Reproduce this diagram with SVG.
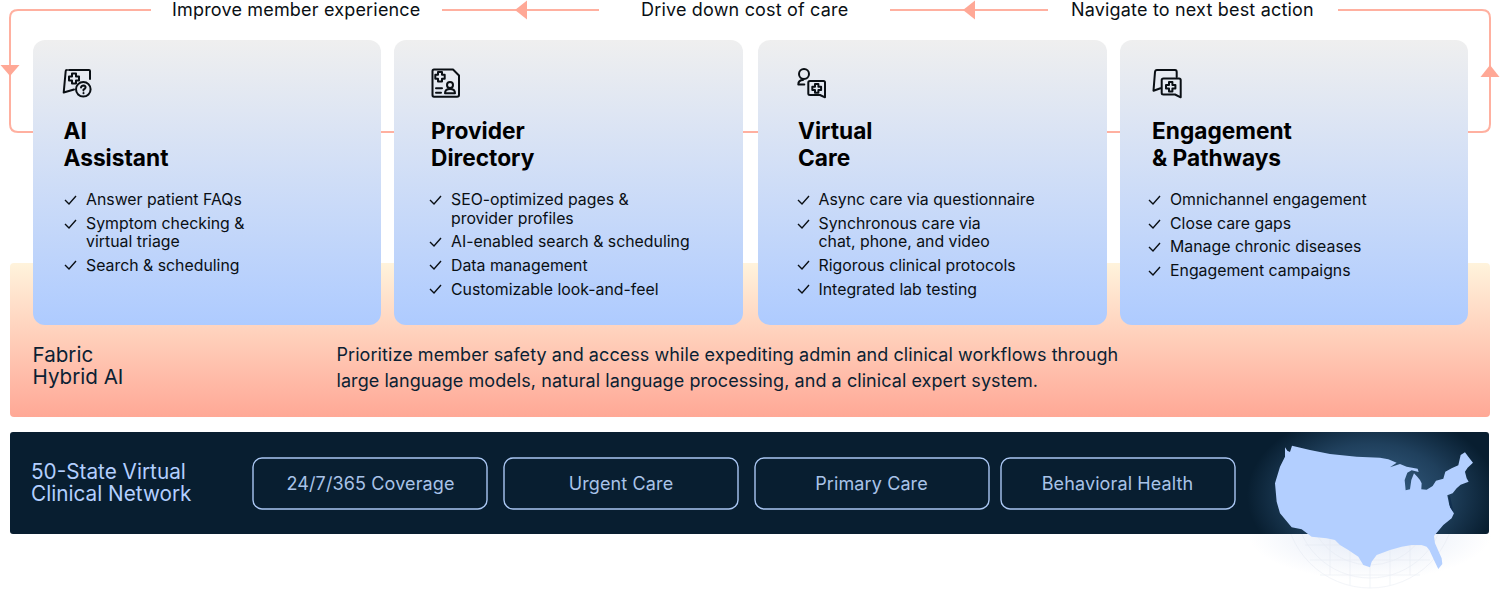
<svg xmlns="http://www.w3.org/2000/svg" width="1500" height="596" viewBox="0 0 1500 596">
<style>
text{font-family:Inter,"Liberation Sans",sans-serif}
.top{font-size:18px;fill:#0a0f14;letter-spacing:.18px}
.title{font-size:22.7px;font-weight:700;fill:#000}
.item{font-size:15.85px;fill:#0a0f14}
.chk{fill:none;stroke:#0a0f14;stroke-width:1.4}
.ico{fill:none;stroke:#0a0f14;stroke-width:2;stroke-linejoin:round;stroke-linecap:round}
.card{fill:url(#cardG)}
.line{fill:none;stroke:#ffb0a0;stroke-width:2}
.arrow{fill:#ffa896}
.pill{fill:none;stroke:#a9c6f2;stroke-width:1.4}
.pt{font-size:18px;fill:#a9c3e8;text-anchor:middle;letter-spacing:.12px}
.fab{font-size:20.6px;fill:#0b1f33}
.body{font-size:18px;fill:#0b1f33;letter-spacing:.065px}
.net{font-size:20.75px;fill:#b3cfff}
</style>
<defs>
<linearGradient id="cardG" x1="0" y1="0" x2="0" y2="1"><stop offset="0" stop-color="#efefef"/><stop offset="1" stop-color="#aecbff"/></linearGradient>
<linearGradient id="fabG" x1="0" y1="0" x2="0" y2="1"><stop offset="0" stop-color="#fff3dc"/><stop offset="1" stop-color="#ffa896"/></linearGradient>
<radialGradient id="glow" cx=".5" cy=".5" r=".5"><stop offset="0" stop-color="#4a7aa6" stop-opacity=".8"/><stop offset=".6" stop-color="#3d6a94" stop-opacity=".45"/><stop offset="1" stop-color="#3d6a94" stop-opacity="0"/></radialGradient>
<radialGradient id="shade" cx=".5" cy=".5" r=".5"><stop offset="0" stop-color="#c9d6ee" stop-opacity=".55"/><stop offset="1" stop-color="#c9d6ee" stop-opacity="0"/></radialGradient>
<clipPath id="panelClip"><rect x="10" y="432" width="1479" height="102" rx="3"/></clipPath>
<clipPath id="belowClip"><rect x="1240" y="534" width="260" height="62"/></clipPath>
<path id="c" class="chk" d="M0,4 L4,8 L11,0"/>
</defs>

<g id="connectors">
<path class="line" d="M151,10 H18 Q10,10 10,18 V124 Q10,132 18,132 H33"/>
<path class="line" d="M381,132 H394"/>
<path class="line" d="M743,132 H758"/>
<path class="line" d="M1107,132 H1120"/>
<path class="line" d="M1468,132 H1482 Q1490,132 1490,124 V18 Q1490,10 1482,10 H1338"/>
<path class="line" d="M599,10 H442"/>
<path class="line" d="M1048,10 H890"/>
<path class="arrow" d="M0.500,65 H19.500 L10,76 Z"/>
<path class="arrow" d="M1480.500,77 H1499.500 L1490,65 Z"/>
<path class="arrow" d="M527,0.500 V19.500 L515,10 Z"/>
<path class="arrow" d="M975,0.500 V19.500 L963,10 Z"/>
</g>
<g id="labels">
<text class="top" x="172" y="16">Improve member experience</text>
<text class="top" x="641" y="16">Drive down cost of care</text>
<text class="top" x="1071" y="16">Navigate to next best action</text>
</g>

<g id="fabric">
<rect x="10" y="263" width="1480" height="154" rx="4" fill="url(#fabG)"/>
<text class="fab" x="32.500" y="362">Fabric</text>
<text class="fab" x="32.500" y="384">Hybrid AI</text>
<text class="body" x="336.500" y="361">Prioritize member safety and access while expediting admin and clinical workflows through</text>
<text class="body" x="336.500" y="387">large language models, natural language processing, and a clinical expert system.</text>
</g>

<g id="card-ai">
<rect class="card" x="33" y="40" width="348" height="285" rx="12"/>
<path class="ico" d="M69,70 H89 Q90,70 90,71 V79 M65.700,71 L63.700,92.500 L74,89.500 M65.700,71 Q65.700,70 67,70" stroke-width="1.700"/>
<circle class="ico" cx="83.300" cy="89.300" r="7.300" stroke-width="1.800"/>
<path class="ico" d="M72,73.500 h4 v3 h3 v4 h-3 v3 h-4 v-3 h-3 v-4 h3 z" stroke-width="1.800"/>
<path class="ico" d="M81,87.500 q0.500,-2 2.500,-2 q2.300,0.300 2,2.200 q-0.500,1.300 -2,2 v0.800 M83.500,93 v.2" stroke-width="1.400"/>
<text class="title" x="63.500" y="139">AI</text><text class="title" x="63.500" y="166">Assistant</text>
<use href="#c" x="65" y="196"/><text class="item" x="86" y="205">Answer patient FAQs</text>
<use href="#c" x="65" y="220"/><text class="item" x="86" y="229">Symptom checking &amp;</text><text class="item" x="86" y="247">virtual triage</text>
<use href="#c" x="65" y="261"/><text class="item" x="86" y="271">Search &amp; scheduling</text>
</g>

<g id="card-provider">
<rect class="card" x="394" y="40" width="349" height="285" rx="12"/>
<path class="ico" d="M434,69.500 H453 L459,75.500 V95 Q459,96.700 457,96.700 H434 Q432.500,96.700 432.500,95 V71 Q432.500,69.500 434,69.500 Z" stroke-width="2.100"/>
<path class="ico" d="M438,72 h4 v2.700 h2.700 v4 h-2.700 v2.700 h-4 v-2.700 h-2.700 v-4 h2.700 z"/>
<circle class="ico" cx="450" cy="85" r="3"/>
<path class="ico" d="M445,93.300 q0,-4.300 5,-4.300 q5,0 5,4.300 z M436,88.300 h6 M436,92.700 h5" stroke-width="1.800"/>
<text class="title" x="431" y="139">Provider</text><text class="title" x="431" y="166">Directory</text>
<use href="#c" x="430" y="196"/><text class="item" x="451" y="205">SEO-optimized pages &amp;</text><text class="item" x="451" y="224">provider profiles</text>
<use href="#c" x="430" y="238"/><text class="item" x="451" y="247">AI-enabled search &amp; scheduling</text>
<use href="#c" x="430" y="261"/><text class="item" x="451" y="271">Data management</text>
<use href="#c" x="430" y="285"/><text class="item" x="451" y="295">Customizable look-and-feel</text>
</g>

<g id="card-virtual">
<rect class="card" x="758" y="40" width="349" height="285" rx="12"/>
<circle class="ico" cx="804" cy="74" r="5"/>
<path class="ico" d="M798.300,84.500 q0,-4.500 4.700,-4.500 M798.300,84.500 h6"/>
<path class="ico" d="M810,81 H823.500 Q825,81 825,82.500 V97.300 L820,95 H810 Q808.300,95 808.300,93.500 V82.500 Q808.300,81 810,81 Z"/>
<path class="ico" d="M815,84 h3.400 v2.700 h2.700 v3.400 h-2.700 v2.700 h-3.400 v-2.700 h-2.700 v-3.400 h2.700 z" stroke-width="1.700"/>
<text class="title" x="798" y="139">Virtual</text><text class="title" x="798" y="166">Care</text>
<use href="#c" x="798" y="196"/><text class="item" x="818.500" y="205">Async care via questionnaire</text>
<use href="#c" x="798" y="220"/><text class="item" x="818.500" y="229">Synchronous care via</text><text class="item" x="818.500" y="247">chat, phone, and video</text>
<use href="#c" x="798" y="261"/><text class="item" x="818.500" y="271">Rigorous clinical protocols</text>
<use href="#c" x="798" y="285"/><text class="item" x="818.500" y="295">Integrated lab testing</text>
</g>

<g id="card-engagement">
<rect class="card" x="1120" y="40" width="348" height="285" rx="12"/>
<path class="ico" d="M1160.500,88.300 L1153.500,90.700 L1155,72 Q1155.200,70 1157,70 H1175 Q1176.700,70 1176.700,72 V77"/>
<path class="ico" d="M1163.500,78.500 H1179 Q1180.700,78.500 1180.700,80 V97.300 L1175,94.500 H1163.500 Q1161.700,94.500 1161.700,93 V80 Q1161.700,78.500 1163.500,78.500 Z"/>
<path class="ico" d="M1169,82 h3.400 v3 h3 v3.400 h-3 v3 h-3.400 v-3 h-3 v-3.400 h3 z" stroke-width="1.700"/>
<text class="title" x="1152" y="139">Engagement</text><text class="title" x="1152" y="166">&amp; Pathways</text>
<use href="#c" x="1149" y="196"/><text class="item" x="1170" y="205">Omnichannel engagement</text>
<use href="#c" x="1149" y="220"/><text class="item" x="1170" y="229">Close care gaps</text>
<use href="#c" x="1149" y="243"/><text class="item" x="1170" y="252">Manage chronic diseases</text>
<use href="#c" x="1149" y="267"/><text class="item" x="1170" y="276">Engagement campaigns</text>
</g>

<g id="network">
<ellipse cx="1370" cy="534" rx="122" ry="46" fill="url(#shade)" clip-path="url(#belowClip)"/>
<g clip-path="url(#belowClip)" fill="none" stroke="#dfe5ef" stroke-width=".7" opacity=".55">
<circle cx="1370" cy="503" r="62"/><circle cx="1370" cy="503" r="75"/><circle cx="1370" cy="503" r="85"/>
<path d="M1305,545 H1435 M1310,560 H1430 M1320,575 H1420 M1330,534 V575 M1350,534 V585 M1370,534 V588 M1390,534 V585 M1410,534 V575"/>
</g>
<rect x="10" y="432" width="1479" height="102" rx="3" fill="#081e30"/>
<ellipse cx="1372" cy="495" rx="125" ry="85" fill="url(#glow)" clip-path="url(#panelClip)"/>
<text class="net" x="31" y="478.500">50-State Virtual</text>
<text class="net" x="31" y="501">Clinical Network</text>
<rect class="pill" x="253" y="458" width="234" height="51" rx="9"/><text class="pt" x="370.500" y="489.500">24/7/365 Coverage</text>
<rect class="pill" x="504" y="458" width="234" height="51" rx="9"/><text class="pt" x="621" y="489.500">Urgent Care</text>
<rect class="pill" x="755" y="458" width="234" height="51" rx="9"/><text class="pt" x="871.500" y="489.500">Primary Care</text>
<rect class="pill" x="1001" y="458" width="234" height="51" rx="9"/><text class="pt" x="1117.500" y="489.500">Behavioral Health</text>
<path transform="translate(1230,430) scale(.3333)" fill="#b3cfff" d="M165,52 L172,62 L180,66 L186,47 L240,60 L300,72 L380,80 L450,83 L475,88 L500,98 L480,112 L510,102 L530,110 L563,116 L566,126 L545,121 L532,128 L524,150 L527,181 L540,178 L544,150 L552,130 L562,140 L570,150 L575,160 L574,178 L590,179 L608,168 L618,152 L640,146 L646,125 L665,115 L685,106 L692,75 L705,67 L715,80 L729,98 L713,113 L705,125 L710,145 L716,155 L692,164 L680,175 L668,190 L652,196 L658,225 L672,250 L665,265 L640,285 L612,318 L615,340 L635,385 L637,402 L625,417 L612,390 L598,360 L590,350 L575,345 L545,345 L515,350 L480,360 L440,375 L425,395 L420,412 L400,405 L385,380 L355,360 L330,345 L315,330 L290,325 L245,320 L215,298 L185,292 L150,250 L140,215 L135,160 L150,110 L165,80 Z"/>
<path transform="translate(1230,430) scale(.3333)" fill="#123050" d="M656,198 L660,198 L668,235 L672,250 L660,232 Z"/>
</g>
</svg>
